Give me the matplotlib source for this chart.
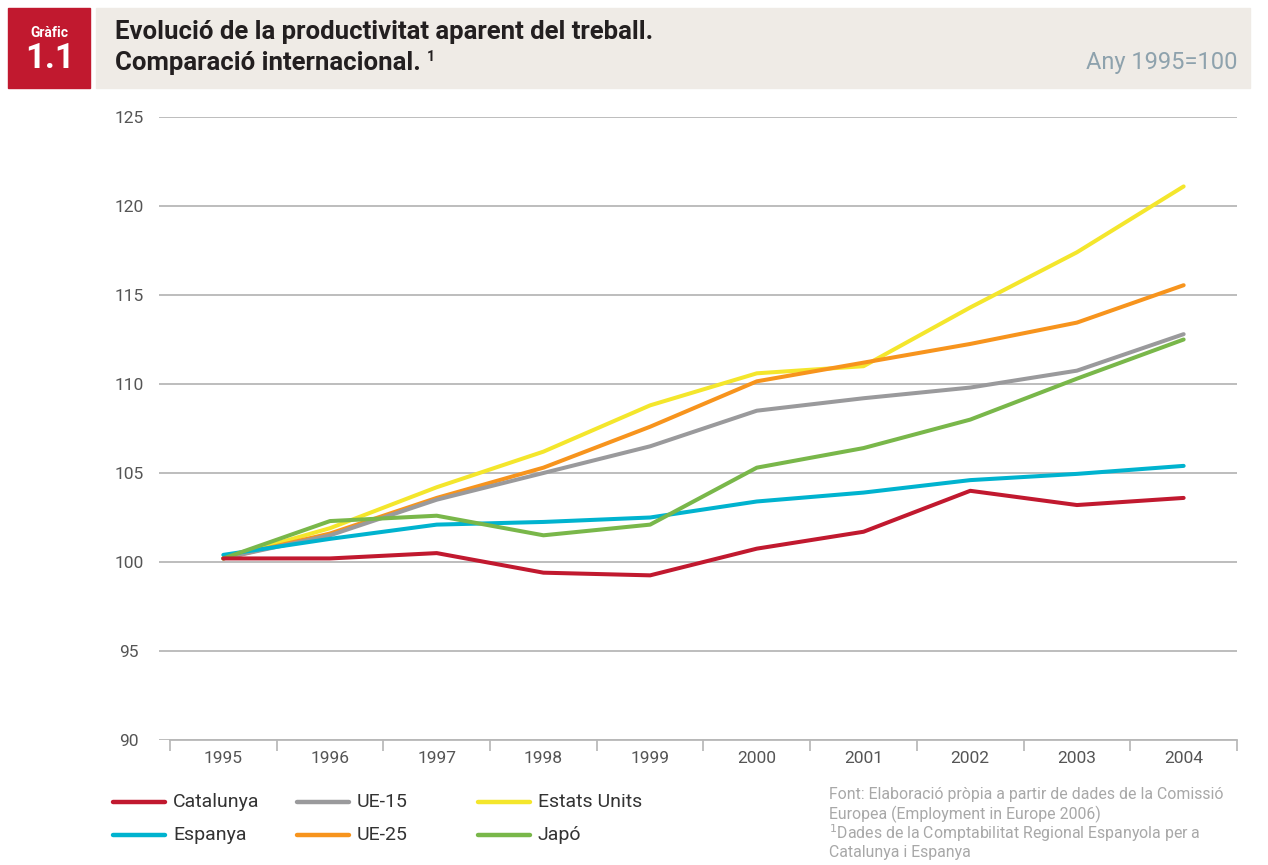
import matplotlib
matplotlib.use('Agg')
import matplotlib.pyplot as plt
from matplotlib.lines import Line2D

plt.rcParams['font.family'] = ['Roboto', 'DejaVu Sans']

years = ['1995', '1996', '1997', '1998', '1999', '2000', '2001', '2002', '2003', '2004']
catalunya = [100.2, 100.2, 100.5, 99.4, 99.25, 100.75, 101.7, 104.0, 103.2, 103.6]
espanya = [100.4, 101.3, 102.1, 102.25, 102.5, 103.4, 103.9, 104.6, 104.95, 105.4]
ue15 = [100.2, 101.5, 103.5, 105.0, 106.5, 108.5, 109.2, 109.8, 110.75, 112.8]
ue25 = [100.2, 101.6, 103.6, 105.3, 107.6, 110.15, 111.2, 112.25, 113.45, 115.55]
eeuu = [100.2, 101.9, 104.2, 106.2, 108.8, 110.6, 111.0, 114.3, 117.4, 121.1]
japo = [100.2, 102.3, 102.6, 101.5, 102.1, 105.3, 106.4, 108.0, 110.3, 112.5]

series = [
    ('Catalunya', catalunya, '#c1192f'),
    ('Espanya', espanya, '#00b3cf'),
    ('UE-15', ue15, '#9a9a9c'),
    ('UE-25', ue25, '#f7941d'),
    ('Estats Units', eeuu, '#f4e62c'),
    ('Japó', japo, '#79b74a'),
]
# drawing order so yellow/orange sit under green where they cross
draw_order = ['Estats Units', 'UE-25', 'UE-15', 'Espanya', 'Japó', 'Catalunya']

W, H = 1268, 865
fig = plt.figure(figsize=(W / 100, H / 100), dpi=100)


def fx(px):
    return px / W


def fy(py):
    return 1 - py / H


# header
fig.add_artist(plt.Rectangle((fx(8), fy(88)), fx(82), 80 / H, color='#c1192f',
                             transform=fig.transFigure))
fig.add_artist(plt.Rectangle((fx(96), fy(88)), fx(1154), 80 / H, color='#efebe6',
                             transform=fig.transFigure))
fig.text(fx(49), fy(33), 'Gràfic', color='white', fontsize=10, fontweight='bold',
         ha='center', va='center')
fig.text(fx(50), fy(59), '1.1', color='white', fontsize=25, fontweight='bold',
         ha='center', va='center')
fig.text(fx(115), fy(32), 'Evolució de la productivitat aparent del treball.',
         color='#231f20', fontsize=18.5, fontweight='bold', va='center')
t2 = fig.text(fx(115), fy(63), 'Comparació internacional.',
              color='#231f20', fontsize=18.5, fontweight='bold', va='center')
fig.canvas.draw()
bb = t2.get_window_extent()
fig.text(bb.x1 / W + fx(6), fy(57), '1', color='#231f20', fontsize=10,
         fontweight='bold', va='center')
fig.text(fx(1238), fy(63), 'Any 1995=100', color='#8ea2ad', fontsize=17,
         ha='right', va='center')

# axes: category bands start at x=170, grid starts a bit further left
left_px, right_px, top_px, bot_px = 159.3, 1237, 117, 740
ax = fig.add_axes([fx(left_px), fy(bot_px), fx(right_px - left_px),
                   (bot_px - top_px) / H])
x = list(range(len(years)))
for name in draw_order:
    for label, vals, col in series:
        if label == name:
            ax.plot(x, vals, color=col, lw=2.9, solid_capstyle='round',
                    solid_joinstyle='round', zorder=3)

ax.set_xlim(-0.6, 9.5)
ax.set_ylim(90, 125)
ax.set_yticks(range(90, 126, 5))
ax.set_xticks(x)
ax.set_xticklabels(years)
ax.set_xticks([i - 0.5 for i in range(11)], minor=True)
ax.tick_params(axis='x', which='major', length=0, pad=8, labelsize=12.5,
               labelcolor='#555555')
ax.tick_params(axis='x', which='minor', length=8, width=1.2, color='#b5b5b5',
               direction='out')
ax.tick_params(axis='y', length=0, pad=22, labelsize=12.5, labelcolor='#555555')
for lab in ax.get_yticklabels():
    lab.set_horizontalalignment('center')
ax.grid(axis='y', color='#b8b8b8', lw=1.3)
ax.set_axisbelow(True)
for s in ['top', 'right', 'left']:
    ax.spines[s].set_visible(False)
ax.spines['bottom'].set_bounds(-0.5, 9.5)
ax.spines['bottom'].set_color('#b8b8b8')
ax.spines['bottom'].set_linewidth(1.3)

# legend, three columns of two rows
legend_cols = [113, 297, 478]
legend_rows = [802, 835]
legend_order = ['Catalunya', 'Espanya', 'UE-15', 'UE-25', 'Estats Units', 'Japó']
colors = {label: col for label, _, col in series}
for i, name in enumerate(legend_order):
    cx = legend_cols[i // 2]
    cy = legend_rows[i % 2]
    fig.add_artist(Line2D([fx(cx), fx(cx + 52)], [fy(cy), fy(cy)],
                          color=colors[name], lw=3.2, solid_capstyle='round',
                          transform=fig.transFigure))
    fig.text(fx(cx + 60), fy(cy), name, fontsize=14, color='#333333',
             va='center')

# source notes
notes = ['Font: Elaboració pròpia a partir de dades de la Comissió',
         'Europea (Employment in Europe 2006)',
         '$^{1}$Dades de la Comptabilitat Regional Espanyola per a',
         'Catalunya i Espanya']
for i, line in enumerate(notes):
    fig.text(fx(829), fy(795 + i * 19.3), line, fontsize=11.4, color='#a8a8a8',
             va='center')

fig.savefig('out.png', dpi=100)
